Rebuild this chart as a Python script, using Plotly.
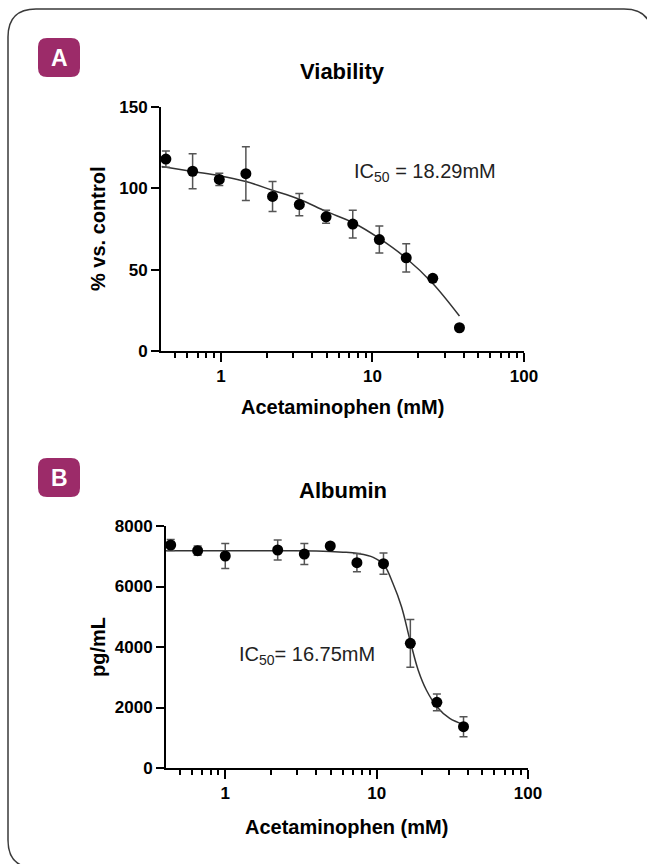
import math
import plotly.graph_objects as go

W, H = 647, 864

# ---------------- data ----------------
conc = [0.433, 0.650, 0.975, 1.46, 2.19, 3.29, 4.94, 7.41, 11.1, 16.7, 25.0, 37.5]

via_vals = [118, 110.5, 105.5, 109, 95, 90, 82.5, 78, 68.5, 57.3, 44.7, 14.3]
via_err = [5, 10.7, 3.7, 16.5, 9.2, 6.8, 4, 8.6, 8.3, 8.7, 0, 0]

via_fit_x = [0.406, 0.65, 0.975, 1.46, 2.19, 3.29, 4.94, 7.41, 11.1, 16.7, 25.0, 37.5]
via_fit_y = [113.4, 110.3, 107.8, 104.2, 98.8, 93.3, 85.8, 79.0, 69.2, 57.0, 41.5, 21.5]

alb_conc = [0.436, 0.657, 1.0, 2.22, 3.33, 4.94, 7.41, 11.1, 16.7, 25.0, 37.5]
alb_vals = [7372, 7184, 7008, 7207, 7074, 7339, 6787, 6754, 4121, 2171, 1366]
alb_err = [180, 155, 410, 330, 350, 0, 300, 350, 790, 275, 330]

alb_fit_x = [0.406, 1.0, 2.0, 4.0, 6.0, 7.5, 9.5, 11.2, 12.8, 14.6, 16.6, 18.8, 21.3, 25.0, 30.4, 37.5]
alb_fit_y = [7180, 7180, 7180, 7175, 7135, 7090, 6965, 6711, 6105, 5333, 4231, 3240, 2578, 2027, 1640, 1440]

x_ticks = [1, 10, 100]
x_tick_text = ["1", "10", "100"]
x_minor = [0.4, 0.5, 0.6, 0.7, 0.8, 0.9, 2, 3, 4, 5, 6, 7, 8, 9, 20, 30, 40, 50, 60, 70, 80, 90]
via_yticks = [0, 50, 100, 150]
alb_yticks = [0, 2000, 4000, 6000, 8000]

# ---------------- figure ----------------
FONT = "Liberation Sans, Arial, sans-serif"
BADGE = "#9C2B69"

def px(x):
    return x / W

def py(y):
    return 1 - y / H

fig = go.Figure()

fig.add_trace(go.Scatter(x=via_fit_x, y=via_fit_y, mode="lines",
                         line=dict(color="#333333", width=1.5, shape="spline", smoothing=1.0),
                         xaxis="x", yaxis="y", hoverinfo="skip"))
fig.add_trace(go.Scatter(x=conc, y=via_vals, mode="markers",
                         marker=dict(color="black", size=11),
                         error_y=dict(type="data", array=via_err, visible=True,
                                      color="#555555", thickness=1.5, width=4),
                         xaxis="x", yaxis="y"))

fig.add_trace(go.Scatter(x=alb_fit_x, y=alb_fit_y, mode="lines",
                         line=dict(color="#333333", width=1.5, shape="spline", smoothing=1.0),
                         xaxis="x2", yaxis="y2", hoverinfo="skip"))
fig.add_trace(go.Scatter(x=alb_conc, y=alb_vals, mode="markers",
                         marker=dict(color="black", size=11),
                         error_y=dict(type="data", array=alb_err, visible=True,
                                      color="#555555", thickness=1.5, width=4),
                         xaxis="x2", yaxis="y2"))

tickfont = dict(family=FONT, size=17, color="black", weight="bold")

def xaxis_cfg(domain, start):
    return dict(domain=domain, type="log", range=[math.log10(start), 2],
                showline=True, linecolor="black", linewidth=2,
                ticks="outside", ticklen=9, tickwidth=2, tickcolor="black",
                tickvals=x_ticks, ticktext=x_tick_text, tickfont=tickfont,
                minor=dict(tickvals=x_minor, ticks="outside", ticklen=5,
                           tickwidth=2, tickcolor="black", showgrid=False),
                showgrid=False, zeroline=False, automargin=False, fixedrange=True)

def yaxis_cfg(domain, rng, tv, anchor):
    return dict(domain=domain, range=rng, anchor=anchor,
                showline=True, linecolor="black", linewidth=2,
                ticks="outside", ticklen=8, tickwidth=2, tickcolor="black",
                tickvals=tv, tickfont=tickfont,
                showgrid=False, zeroline=False, automargin=False, fixedrange=True)

fig.update_layout(
    width=W, height=H,
    margin=dict(l=0, r=0, t=0, b=0),
    paper_bgcolor="white", plot_bgcolor="white",
    showlegend=False,
    xaxis=xaxis_cfg([px(161), px(524)], 0.402) | dict(anchor="y"),
    yaxis=yaxis_cfg([py(351), py(107)], [0, 150], via_yticks, "x"),
    xaxis2=xaxis_cfg([px(166), px(528)], 0.406) | dict(anchor="y2"),
    yaxis2=yaxis_cfg([py(768), py(526)], [0, 8000], alb_yticks, "x2"),
)

# outer rounded frame (its right edge lies outside the picture)
r = 28
L, T, R, B = 8, 9, 652, 868
border = (f"M {px(R)},{py(T + r + 6)} L {px(R)},{py(T + r)} "
          f"Q {px(R)},{py(T)} {px(R - r)},{py(T)} "
          f"L {px(L + r)},{py(T)} Q {px(L)},{py(T)} {px(L)},{py(T + r)} "
          f"L {px(L)},{py(B - r)} Q {px(L)},{py(B)} {px(L + r)},{py(B)} "
          f"L {px(R - r)},{py(B)}")
shapes = [dict(type="path", path=border, xref="paper", yref="paper",
               line=dict(color="#3a3a3a", width=1.5), fillcolor="rgba(0,0,0,0)")]

def badge_path(x0, y0, x1, y1, rr):
    return (f"M {px(x0)},{py(y0 + rr)} Q {px(x0)},{py(y0)} {px(x0 + rr)},{py(y0)} "
            f"L {px(x1 - rr)},{py(y0)} Q {px(x1)},{py(y0)} {px(x1)},{py(y0 + rr)} "
            f"L {px(x1)},{py(y1 - rr)} Q {px(x1)},{py(y1)} {px(x1 - rr)},{py(y1)} "
            f"L {px(x0 + rr)},{py(y1)} Q {px(x0)},{py(y1)} {px(x0)},{py(y1 - rr)} Z")

for (y0, y1) in [(38, 77), (458, 497)]:
    shapes.append(dict(type="path", path=badge_path(38, y0, 80, y1, 9),
                       xref="paper", yref="paper", line=dict(width=0), fillcolor=BADGE))

fig.update_layout(shapes=shapes)

def ann(text, x, y, size, bold=False, angle=0, xanchor="center", color="black"):
    fig.add_annotation(text=text, x=px(x), y=py(y), xref="paper", yref="paper",
                       xanchor=xanchor, yanchor="middle", showarrow=False,
                       textangle=angle,
                       font=dict(family=FONT, size=size, color=color,
                                 weight="bold" if bold else "normal"))

ann("A", 59, 58, 23, bold=True, color="white")
ann("B", 59, 478, 23, bold=True, color="white")
ann("Viability", 342, 71, 22, bold=True)
ann("Albumin", 343, 490, 22, bold=True)
ann("Acetaminophen (mM)", 342, 407, 20, bold=True)
ann("Acetaminophen (mM)", 347, 827, 20, bold=True)
ann("% vs. control", 98, 229, 20, bold=True, angle=-90)
ann("pg/mL", 98, 647, 20, bold=True, angle=-90)
ann("IC<sub>50</sub> = 18.29mM", 352, 172, 20, xanchor="left", color="#222222")
ann("IC<sub>50</sub>= 16.75mM", 237, 655, 20, xanchor="left", color="#222222")

fig.write_html(
    "out.html",
    config={"displayModeBar": False},
    post_script="document.body.style.margin='0';document.body.style.overflow='hidden';"
                "document.documentElement.style.overflow='hidden';",
)
